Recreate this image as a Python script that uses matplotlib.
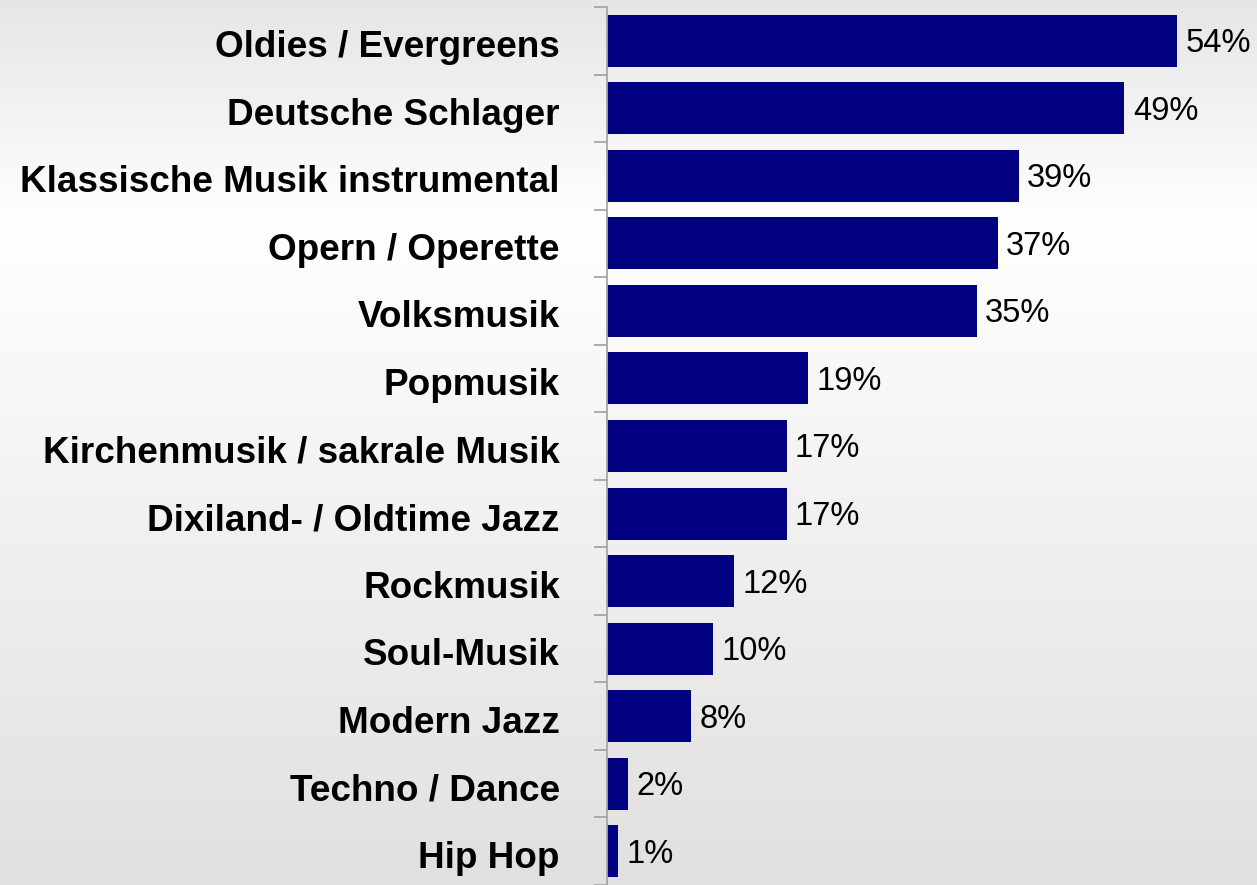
import numpy as np
import matplotlib
matplotlib.use("Agg")
import matplotlib.pyplot as plt
import matplotlib.transforms as mtransforms
from matplotlib.colors import LinearSegmentedColormap
from matplotlib.ticker import FixedLocator, NullLocator

# Musikrichtungen und Anteile in Prozent
genres = [
    "Oldies / Evergreens",
    "Deutsche Schlager",
    "Klassische Musik instrumental",
    "Opern / Operette",
    "Volksmusik",
    "Popmusik",
    "Kirchenmusik / sakrale Musik",
    "Dixiland- / Oldtime Jazz",
    "Rockmusik",
    "Soul-Musik",
    "Modern Jazz",
    "Techno / Dance",
    "Hip Hop",
]
shares = [54, 49, 39, 37, 35, 19, 17, 17, 12, 10, 8, 2, 1]

plt.rcParams["font.family"] = ["Liberation Sans", "DejaVu Sans"]

fig = plt.figure(figsize=(12.57, 8.85), dpi=100)

# grey-white-grey vertical background gradient (top row first)
bg = fig.add_axes([0, 0, 1, 1], zorder=-10)
grad = LinearSegmentedColormap.from_list(
    "bg", [(0.0, "#e6e6e6"), (0.25, "#ffffff"), (1.0, "#e1e0df")])
bg.imshow(np.linspace(0, 1, 256).reshape(-1, 1), aspect="auto", cmap=grad,
          extent=[0, 1, 0, 1], vmin=0, vmax=1, origin="upper")
bg.axis("off")

ax = fig.add_axes([0.4829, 0.0, 0.504, 0.9921])
ax.patch.set_visible(False)

y = np.arange(len(genres))
ax.barh(y, shares, height=0.77, color="#000080")

# nudge texts a little downwards
down = mtransforms.ScaledTranslation(0, -3 / 100, fig.dpi_scale_trans)

for yi, v in zip(y, shares):
    ax.text(v + 0.8, yi, f"{v}%", va="center", ha="left", fontsize=23.5,
            color="black", transform=ax.transData + down)

ax.set_xlim(0, 60)
ax.set_ylim(len(genres) - 0.5, -0.5)

for s in ["top", "right", "bottom"]:
    ax.spines[s].set_visible(False)
ax.spines["left"].set_color("#a6a6a6")
ax.spines["left"].set_linewidth(1.3)

ax.xaxis.set_major_locator(NullLocator())
ax.set_yticks(y)
ax.set_yticklabels(genres, fontsize=26.6, fontweight="bold")
ax.tick_params(axis="y", which="major", length=0, pad=34)
ax.yaxis.set_minor_locator(FixedLocator(np.arange(-0.5, len(genres), 1.0)))
ax.tick_params(axis="y", which="minor", length=9.4, width=1.3,
               color="#a6a6a6")
for lab in ax.get_yticklabels():
    lab.set_transform(lab.get_transform() + down)

fig.savefig("out.png", dpi=100)
